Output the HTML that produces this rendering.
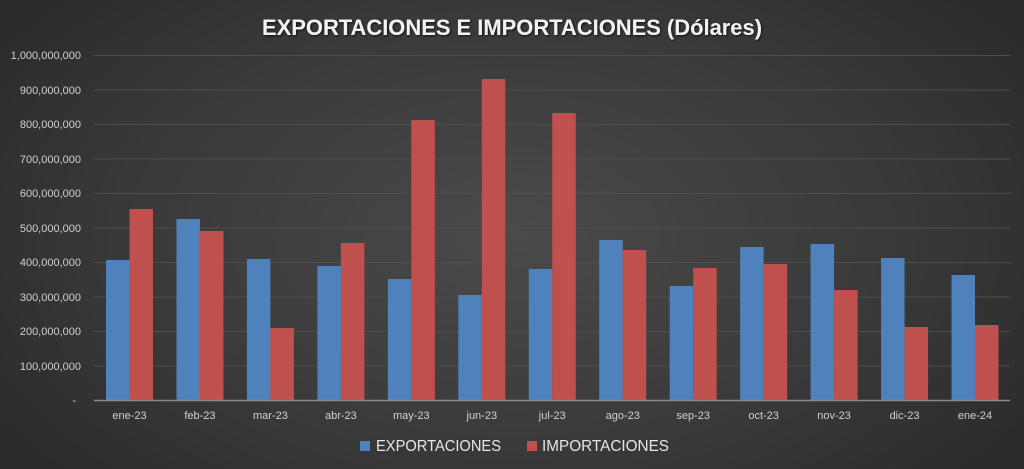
<!DOCTYPE html>
<html><head><meta charset="utf-8"><style>
html,body{margin:0;padding:0;}
body{width:1024px;height:469px;overflow:hidden;background:radial-gradient(ellipse 70% 90% at 50% 50%,#4a4a4a 0%,#3a3a3a 50%,#262626 100%);font-family:"Liberation Sans",sans-serif;}
</style></head><body>
<svg width="1024" height="469" xmlns="http://www.w3.org/2000/svg" style="position:absolute;left:0;top:0">
<defs><filter id="sh"><feDropShadow dx="1" dy="1" stdDeviation="1" flood-color="#000" flood-opacity="0.7"/></filter></defs>
<text x="512" y="35" text-anchor="middle" font-size="22" font-weight="bold" fill="#f2f2f2" textLength="500" lengthAdjust="spacingAndGlyphs" filter="url(#sh)">EXPORTACIONES E IMPORTACIONES (Dólares)</text>
<g stroke="#4e4e4e" stroke-width="1">
<line x1="94" x2="1010" y1="55.5" y2="55.5"/><line x1="94" x2="1010" y1="90" y2="90"/><line x1="94" x2="1010" y1="124.5" y2="124.5"/><line x1="94" x2="1010" y1="159" y2="159"/><line x1="94" x2="1010" y1="193.5" y2="193.5"/><line x1="94" x2="1010" y1="228" y2="228"/><line x1="94" x2="1010" y1="262.5" y2="262.5"/><line x1="94" x2="1010" y1="297" y2="297"/><line x1="94" x2="1010" y1="331.5" y2="331.5"/><line x1="94" x2="1010" y1="366" y2="366"/>
</g>
<g font-size="11" fill="#d0d0d0" text-anchor="end">
<text x="81" y="59">1,000,000,000</text><text x="81" y="94">900,000,000</text><text x="81" y="128">800,000,000</text><text x="81" y="163">700,000,000</text><text x="81" y="197">600,000,000</text><text x="81" y="232">500,000,000</text><text x="81" y="266">400,000,000</text><text x="81" y="301">300,000,000</text><text x="81" y="335">200,000,000</text><text x="81" y="370">100,000,000</text><text x="76" y="404">-</text>
</g>
<g id="bars"></g>
<line x1="94" x2="1010" y1="400.5" y2="400.5" stroke="#8a8a8a" stroke-width="1.5"/>
<g font-size="11" fill="#d0d0d0" text-anchor="middle" id="labs"></g>
<rect x="360" y="441" width="10" height="10" fill="#4f81bd"/>
<text x="376" y="451" font-size="16" fill="#e6e6e6" textLength="125" lengthAdjust="spacingAndGlyphs">EXPORTACIONES</text>
<rect x="527" y="441" width="10" height="10" fill="#c0504d"/>
<text x="542" y="451" font-size="16" fill="#e6e6e6" textLength="127" lengthAdjust="spacingAndGlyphs">IMPORTACIONES</text>
<script>
var L=["ene-23","feb-23","mar-23","abr-23","may-23","jun-23","jul-23","ago-23","sep-23","oct-23","nov-23","dic-23","ene-24"];
var B=[260,219,259,266,279,295,269,240,286,247,244,258,275];
var R=[209,231,328,243,120,79,113,250,268,264,290,327,325];
var ns="http://www.w3.org/2000/svg",g=document.getElementById("bars"),lg=document.getElementById("labs");
for(var i=0;i<13;i++){var c=129.5+70.46*i;
function r(x,y,f){var e=document.createElementNS(ns,"rect");e.setAttribute("x",x);e.setAttribute("y",y);e.setAttribute("width",23.5);e.setAttribute("height",400-y);e.setAttribute("fill",f);g.appendChild(e);}
r(c-23.5,B[i],"#4f81bd");r(c,R[i],"#c0504d");
var t=document.createElementNS(ns,"text");t.setAttribute("x",c);t.setAttribute("y",419);t.textContent=L[i];lg.appendChild(t);}
</script>
</svg>
</body></html>
